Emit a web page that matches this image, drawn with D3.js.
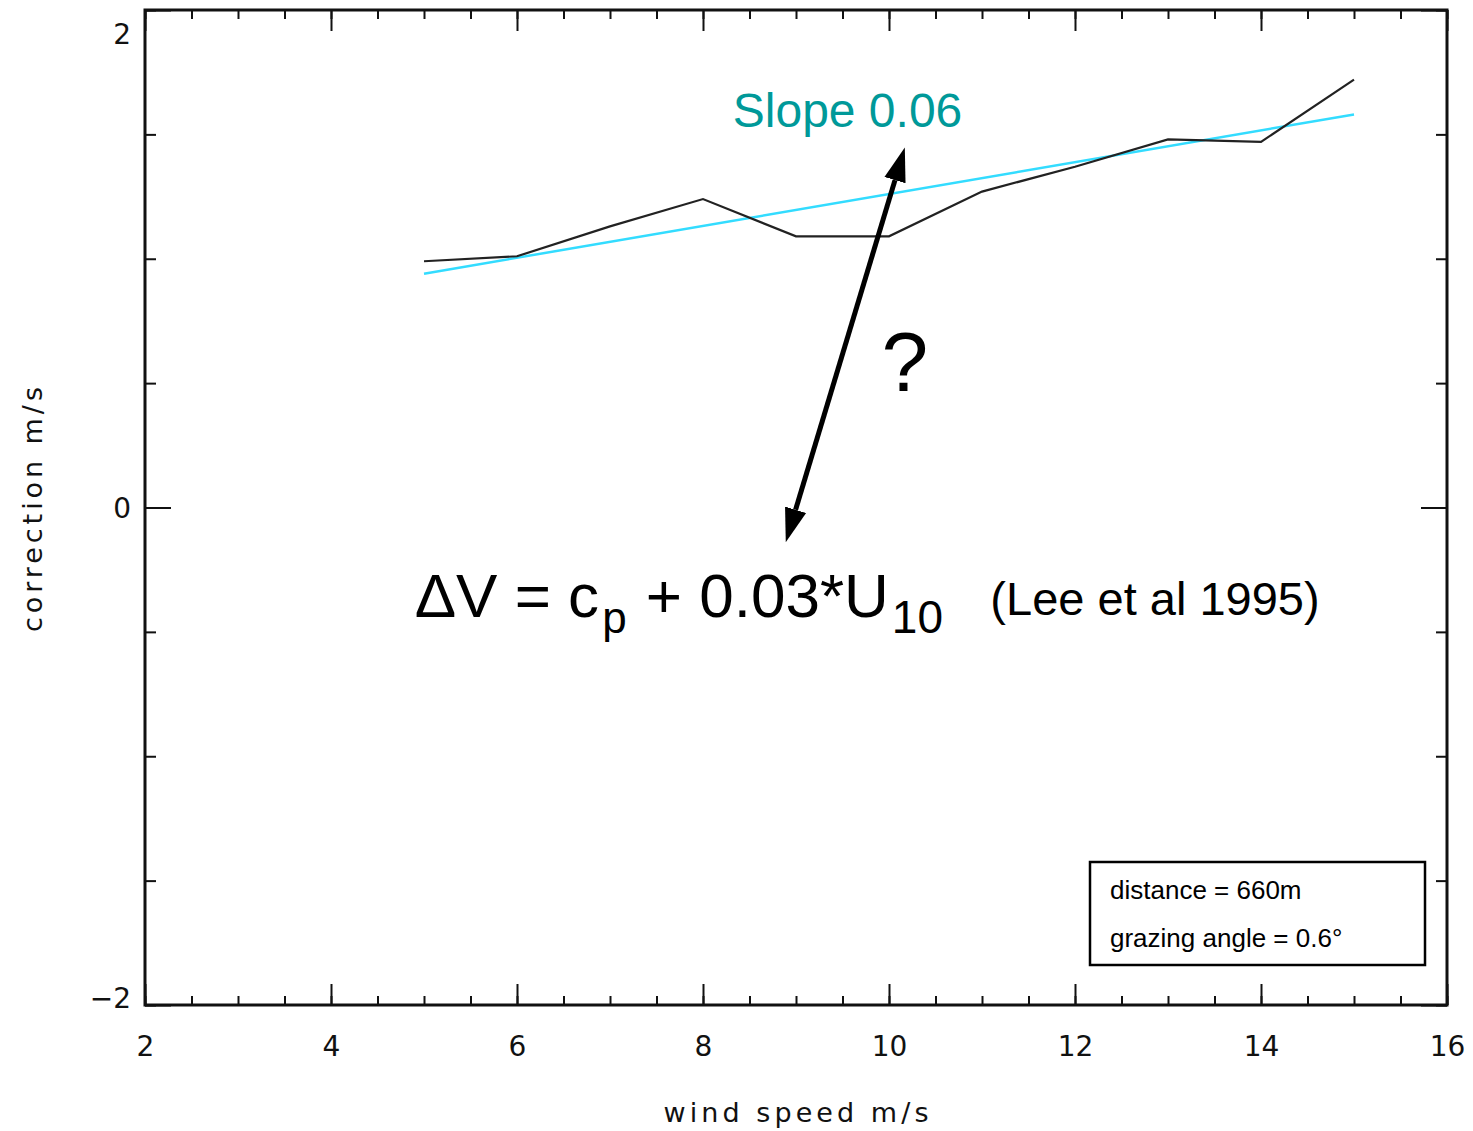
<!DOCTYPE html>
<html>
<head>
<meta charset="utf-8">
<script src="https://cdn.jsdelivr.net/npm/d3@7"></script>
<style>
  body { margin: 0; background: #fff; }
  .axis text { font-family: "DejaVu Sans", sans-serif; fill: #111; }
  .anno { font-family: "Liberation Sans", Arial, sans-serif; }
</style>
</head>
<body>
<svg id="chart" width="1473" height="1131"></svg>
<script>
// wind speed (m/s) and measured correction (m/s)
const windSpeed = [5, 6, 7, 8, 9, 10, 11, 12, 13, 14, 15];
const correction = [0.99, 1.01, 1.13, 1.24, 1.09, 1.09, 1.27, 1.37, 1.48, 1.47, 1.72];

// fitted line end points
const fitSpeed = [5, 15];
const fitCorrection = [0.94, 1.58];

const xMajorTicks = [2, 4, 6, 8, 10, 12, 14, 16];
const yMajorTicks = [-2, 0, 2];
const xMinorTicks = d3.range(2, 16.01, 0.5);
const yMinorTicks = d3.range(-2, 2.01, 0.5);

const margin = { top: 10, right: 26, bottom: 126, left: 145 };
const totalWidth = 1473, totalHeight = 1131;
const width = totalWidth - margin.left - margin.right;
const height = totalHeight - margin.top - margin.bottom;

const svg = d3.select('#chart');
const g = svg.append('g').attr('transform', 'translate(' + margin.left + ',' + margin.top + ')');

const x = d3.scaleLinear().domain([2, 16]).range([0, width]);
const y = d3.scaleLinear().domain([-2, 2]).range([height, 0]);

//Axes: majors with labels, minor ticks, mirrored on top/right
function styleAxis(sel) {
  sel.select('.domain').remove();
  sel.selectAll('line').attr('stroke', '#111').attr('stroke-width', 2);
}

g.append('g')
  .attr('class', 'axis')
  .attr('transform', 'translate(0,' + height + ')')
  .call(d3.axisBottom(x).tickValues(xMajorTicks).tickSize(-21).tickPadding(31).tickFormat(d3.format('d')))
  .call(styleAxis)
  .selectAll('text')
  .style('font-size', '28px');

g.append('g')
  .attr('transform', 'translate(0,' + height + ')')
  .call(d3.axisBottom(x).tickValues(xMinorTicks).tickSize(-9).tickFormat(''))
  .call(styleAxis);

g.append('g')
  .call(d3.axisTop(x).tickValues(xMajorTicks).tickSize(-21).tickFormat(''))
  .call(styleAxis);
g.append('g')
  .call(d3.axisTop(x).tickValues(xMinorTicks).tickSize(-9).tickFormat(''))
  .call(styleAxis);

const yAxis = g.append('g')
  .attr('class', 'axis')
  .call(d3.axisLeft(y).tickValues(yMajorTicks).tickSize(-26).tickPadding(14).tickFormat(d => d < 0 ? '\u2212' + Math.abs(d) : d))
  .call(styleAxis);
yAxis.selectAll('text').style('font-size', '28px')
  .attr('dy', d => d === 2 ? '1.2em' : d === -2 ? '0.1em' : '0.35em');

g.append('g')
  .call(d3.axisLeft(y).tickValues(yMinorTicks).tickSize(-11).tickFormat(''))
  .call(styleAxis);
g.append('g')
  .attr('transform', 'translate(' + width + ',0)')
  .call(d3.axisRight(y).tickValues(yMajorTicks).tickSize(-26).tickFormat(''))
  .call(styleAxis);
g.append('g')
  .attr('transform', 'translate(' + width + ',0)')
  .call(d3.axisRight(y).tickValues(yMinorTicks).tickSize(-11).tickFormat(''))
  .call(styleAxis);

//Frame
g.append('rect')
  .attr('width', width)
  .attr('height', height)
  .attr('fill', 'none')
  .attr('stroke', '#111')
  .attr('stroke-width', 3);

//Axis titles
g.append('text')
  .attr('x', width / 2)
  .attr('y', height + 117)
  .attr('text-anchor', 'middle')
  .attr('textLength', 265)
  .style('font-family', '"DejaVu Sans", sans-serif')
  .style('font-size', '27px')
  .style('fill', '#111')
  .text('wind speed m/s');

g.append('text')
  .attr('transform', 'translate(' + (-103) + ',' + (y(0) + 2) + ') rotate(-90)')
  .attr('text-anchor', 'middle')
  .attr('textLength', 245)
  .style('font-family', '"DejaVu Sans", sans-serif')
  .style('font-size', '27px')
  .style('fill', '#111')
  .text('correction m/s');

//Lines
const line = d3.line().x(d => x(d[0])).y(d => y(d[1]));

g.append('path')
  .datum(d3.zip(fitSpeed, fitCorrection))
  .attr('d', line)
  .attr('fill', 'none')
  .attr('stroke', '#33dcff')
  .attr('stroke-width', 2.5);

g.append('path')
  .datum(d3.zip(windSpeed, correction))
  .attr('d', line)
  .attr('fill', 'none')
  .attr('stroke', '#222')
  .attr('stroke-width', 2.2);

//Annotations
g.append('text')
  .attr('class', 'anno')
  .attr('x', x(8.32))
  .attr('y', y(1.53))
  .style('font-size', '48px')
  .style('fill', '#009999')
  .text('Slope 0.06');

// double headed arrow
const defs = svg.append('defs');
defs.append('marker')
  .attr('id', 'head')
  .attr('viewBox', '0 -12 34 24')
  .attr('refX', 0)
  .attr('refY', 0)
  .attr('markerWidth', 34)
  .attr('markerHeight', 24)
  .attr('markerUnits', 'userSpaceOnUse')
  .attr('orient', 'auto-start-reverse')
  .append('path')
  .attr('d', 'M0,-11L34,0L0,11Z')
  .attr('fill', '#000');

const a0 = [x(8.89), y(-0.14)];
const a1 = [x(10.17), y(1.447)];
const len = Math.hypot(a1[0] - a0[0], a1[1] - a0[1]);
const ux = (a1[0] - a0[0]) / len, uy = (a1[1] - a0[1]) / len;
g.append('line')
  .attr('x1', a0[0] + ux * 34)
  .attr('y1', a0[1] + uy * 34)
  .attr('x2', a1[0] - ux * 34)
  .attr('y2', a1[1] - uy * 34)
  .attr('stroke', '#000')
  .attr('stroke-width', 5)
  .attr('marker-start', 'url(#head)')
  .attr('marker-end', 'url(#head)');

g.append('text')
  .attr('class', 'anno')
  .attr('x', x(10.17))
  .attr('y', y(0.47))
  .attr('text-anchor', 'middle')
  .style('font-size', '84px')
  .text('?');

const formula = g.append('text')
  .attr('class', 'anno')
  .attr('x', x(4.9))
  .attr('y', y(-0.44))
  .style('font-size', '62px');
formula.append('tspan').text('\u0394V = c');
formula.append('tspan').attr('dy', 16).attr('dx', 3).style('font-size', '44px').text('p');
formula.append('tspan').attr('dy', -16).attr('dx', 2).text(' + 0.03*U');
formula.append('tspan').attr('dy', 16).attr('dx', 3).style('font-size', '46px').text('10');

g.append('text')
  .attr('class', 'anno')
  .attr('x', x(11.09))
  .attr('y', y(-0.44) - 2)
  .style('font-size', '47px')
  .text('(Lee et al 1995)');

//Info box
const box = svg.append('g').attr('transform', 'translate(1090,862)');
box.append('rect')
  .attr('width', 335)
  .attr('height', 103)
  .attr('fill', '#fff')
  .attr('stroke', '#000')
  .attr('stroke-width', 2.5);
box.append('text')
  .attr('class', 'anno')
  .attr('x', 20)
  .attr('y', 37)
  .style('font-size', '26px')
  .text('distance = 660m');
box.append('text')
  .attr('class', 'anno')
  .attr('x', 20)
  .attr('y', 85)
  .style('font-size', '26px')
  .text('grazing angle = 0.6\u00b0');
</script>
</body>
</html>
